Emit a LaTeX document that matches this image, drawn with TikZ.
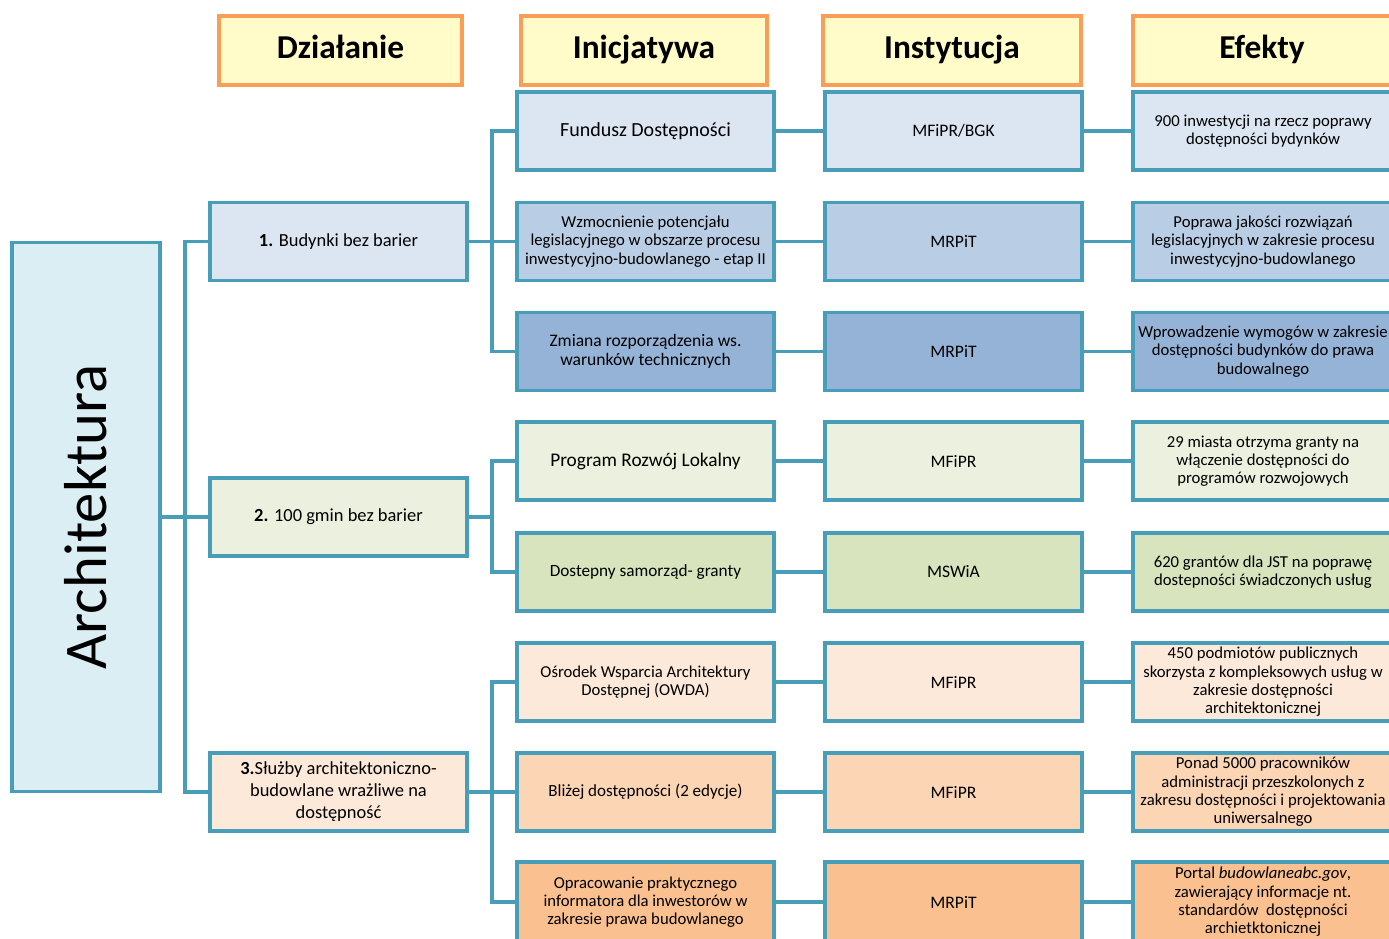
\documentclass[tikz,border=0pt]{standalone}
\usepackage{fontspec}
\setmainfont{Carlito}
\usepackage{tikz}
\definecolor{lineblue}{RGB}{72,157,184}
\definecolor{headorange}{RGB}{249,158,86}
\definecolor{headfill}{RGB}{255,252,202}
\definecolor{archfill}{RGB}{219,238,244}
\definecolor{blueA}{RGB}{220,230,242}
\definecolor{blueB}{RGB}{185,205,229}
\definecolor{blueC}{RGB}{149,179,215}
\definecolor{greenA}{RGB}{235,241,222}
\definecolor{greenB}{RGB}{215,228,189}
\definecolor{orangeA}{RGB}{253,233,217}
\definecolor{orangeB}{RGB}{252,213,181}
\definecolor{orangeC}{RGB}{250,192,144}

\begin{document}
\begin{tikzpicture}[x=0.02cm,y=-0.02cm]
\tikzstyle{every node}+=[inner sep=0pt, align=center]
\tikzstyle{head}=[draw=headorange, fill=headfill, line width=1.8pt, minimum height=1.38cm, text height=13.5pt, text depth=4pt, font=\fontsize{19}{22}\selectfont\bfseries]
\tikzstyle{box}=[draw=lineblue, line width=1.9pt, minimum width=5.14cm, minimum height=1.56cm, font=\fontsize{9.5}{10.4}\selectfont]
\tikzstyle{inst}=[box, font=\fontsize{10}{12}\selectfont]
\tikzstyle{link}=[draw=lineblue, line width=1.9pt]
\useasboundingbox (0,0) rectangle (1389,939);
\node [head, minimum width=4.86cm] (hdzial) at (340.5,50.5) {Działanie};
\node [head, minimum width=4.92cm] (hinic) at (644,50.5) {Inicjatywa};
\node [head, minimum width=5.16cm] (hinst) at (952,50.5) {Instytucja};
\node [head, minimum width=5.16cm] (hefekt) at (1262,50.5) {Efekty};
\node [box, fill=archfill, minimum width=2.96cm, minimum height=10.98cm] (arch) at (86,517) {\rotatebox{90}{\fontsize{34.5}{40}\selectfont Architektura}};
\node [box, fill=blueA, font=\fontsize{10.5}{12.5}\selectfont] (budynki) at (338.5,241.5) {\textbf{1.} Budynki bez barier};
\node [box, fill=greenA, font=\fontsize{10.5}{12.5}\selectfont] (gminy) at (338.5,517) {\textbf{2.} 100 gmin bez barier};
\node [box, fill=orangeA, font=\fontsize{10.5}{12.5}\selectfont] (sluzby) at (338.5,792) {\textbf{3.}Służby architektoniczno-\\budowlane wrażliwe na\\dostępność};
\node [box, fill=blueA, font=\fontsize{11.4}{13}\selectfont] (fundusz) at (645.5,131) {Fundusz Dostępności};
\node [box, fill=blueB] (wzmocn) at (645.5,241.5) {Wzmocnienie potencjału\\legislacyjnego w obszarze procesu\\inwestycyjno-budowlanego - etap II};
\node [box, fill=blueC, font=\fontsize{10}{11}\selectfont] (zmiana) at (645.5,351.5) {Zmiana rozporządzenia ws.\\warunków technicznych};
\node [box, fill=greenA, font=\fontsize{11}{13}\selectfont] (program) at (645.5,461) {Program Rozwój Lokalny};
\node [box, fill=greenB, font=\fontsize{9.8}{11}\selectfont] (samorzad) at (645.5,572) {Dostepny samorząd- granty};
\node [box, fill=orangeA] (osrodek) at (645.5,682) {Ośrodek Wsparcia Architektury\\Dostępnej (OWDA)};
\node [box, fill=orangeB, font=\fontsize{9.7}{11}\selectfont] (blizej) at (645.5,792) {Bliżej dostępności (2 edycje)};
\node [box, fill=orangeC, minimum height=1.6cm] (informator) at (645.5,902) {Opracowanie praktycznego\\informatora dla inwestorów w\\zakresie prawa budowlanego};
\node [inst, fill=blueA] (bgk) at (953.5,131) {MFiPR/BGK};
\node [inst, fill=blueB] (mrpitA) at (953.5,241.5) {MRPiT};
\node [inst, fill=blueC] (mrpitB) at (953.5,351.5) {MRPiT};
\node [inst, fill=greenA] (mfiprA) at (953.5,461) {MFiPR};
\node [inst, fill=greenB] (mswia) at (953.5,572) {MSWiA};
\node [inst, fill=orangeA] (mfiprB) at (953.5,682) {MFiPR};
\node [inst, fill=orangeB] (mfiprC) at (953.5,792) {MFiPR};
\node [inst, fill=orangeC, minimum height=1.6cm] (mrpitC) at (953.5,902) {MRPiT};
\node [box, fill=blueA, minimum width=5.2cm] (inwest) at (1263,131) {900 inwestycji na rzecz poprawy\\dostępności bydynków};
\node [box, fill=blueB, minimum width=5.2cm] (legisl) at (1263,241.5) {Poprawa jakości rozwiązań\\legislacyjnych w zakresie procesu\\inwestycyjno-budowlanego};
\node [box, fill=blueC, minimum width=5.2cm] (wymogi) at (1263,351.5) {Wprowadzenie wymogów w zakresie\\dostępności budynków do prawa\\budowalnego};
\node [box, fill=greenA, minimum width=5.2cm] (miasta) at (1263,461) {29 miasta otrzyma granty na\\włączenie dostępności do\\programów rozwojowych};
\node [box, fill=greenB, minimum width=5.2cm] (granty) at (1263,572) {620 grantów dla JST na poprawę\\dostepności świadczonych usług};
\node [box, fill=orangeA, minimum width=5.2cm] (podmioty) at (1263,682) {450 podmiotów publicznych\\skorzysta z kompleksowych usług w\\zakresie dostępności\\architektonicznej};
\node [box, fill=orangeB, minimum width=5.2cm] (pracownicy) at (1263,792) {Ponad 5000 pracowników\\administracji przeszkolonych z\\zakresu dostępności i projektowania\\uniwersalnego};
\node [box, fill=orangeC, minimum width=5.2cm, minimum height=1.6cm] (portal) at (1263,902) {Portal \textit{budowlaneabc.gov},\\zawierający informacje nt.\\standardów~ dostępności\\archietktonicznej};
\coordinate (t0) at (185,517);
\coordinate (t1) at (492,241.5);
\coordinate (t2) at (492,517);
\coordinate (t3) at (492,792);
\draw [link] (arch.east) -- (t0);
\draw [link] (budynki.west) -| (t0) |- (sluzby.west);
\draw [link] (t0) -- (gminy.west);
\draw [link] (budynki.east) -- (t1);
\draw [link] (fundusz.west) -| (t1) |- (zmiana.west);
\draw [link] (t1) -- (wzmocn.west);
\draw [link] (gminy.east) -- (t2);
\draw [link] (program.west) -| (t2) |- (samorzad.west);
\draw [link] (sluzby.east) -- (t3);
\draw [link] (osrodek.west) -| (t3) |- (informator.west);
\draw [link] (t3) -- (blizej.west);
\draw [link] (fundusz) -- (bgk);
\draw [link] (wzmocn) -- (mrpitA);
\draw [link] (zmiana) -- (mrpitB);
\draw [link] (program) -- (mfiprA);
\draw [link] (samorzad) -- (mswia);
\draw [link] (osrodek) -- (mfiprB);
\draw [link] (blizej) -- (mfiprC);
\draw [link] (informator) -- (mrpitC);
\draw [link] (bgk) -- (inwest);
\draw [link] (mrpitA) -- (legisl);
\draw [link] (mrpitB) -- (wymogi);
\draw [link] (mfiprA) -- (miasta);
\draw [link] (mswia) -- (granty);
\draw [link] (mfiprB) -- (podmioty);
\draw [link] (mfiprC) -- (pracownicy);
\draw [link] (mrpitC) -- (portal);
\end{tikzpicture}
\end{document}
